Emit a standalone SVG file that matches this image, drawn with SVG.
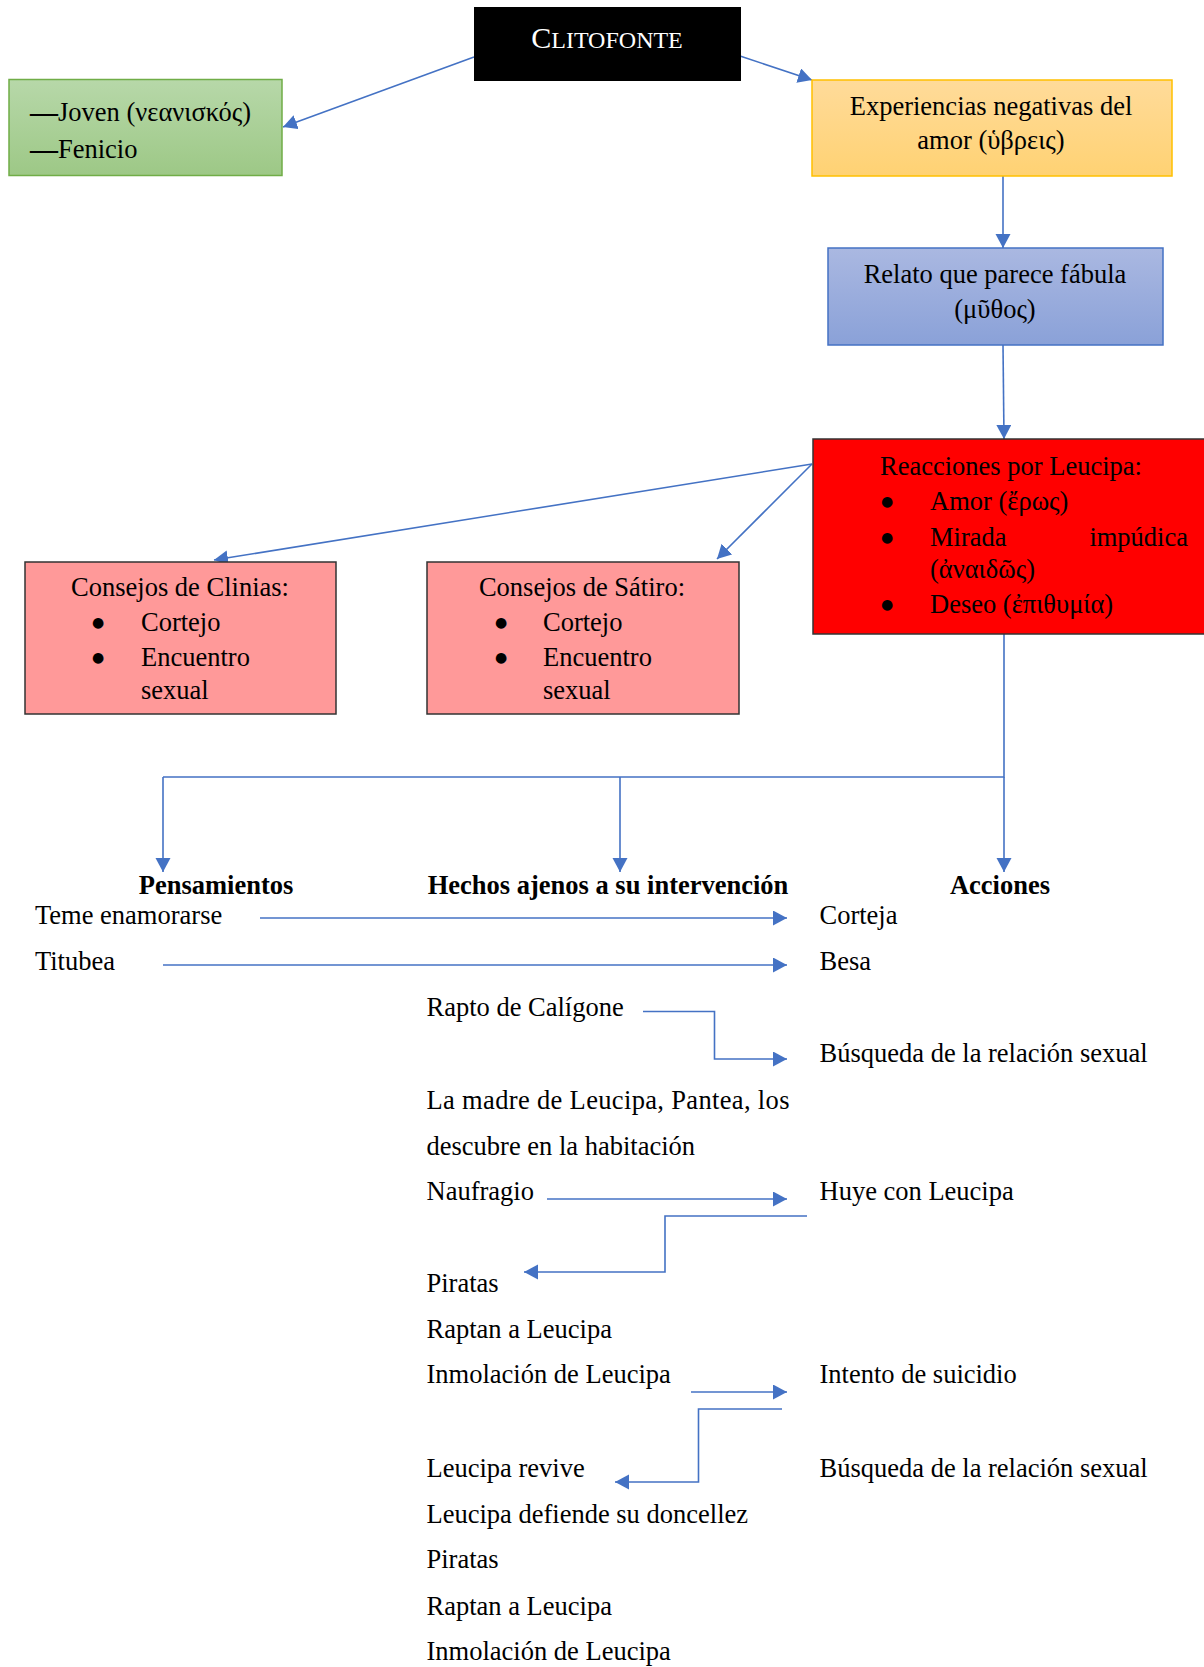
<svg xmlns="http://www.w3.org/2000/svg" width="1204" height="1667" viewBox="0 0 1204 1667">
<defs>
<linearGradient id="gGreen" x1="0" y1="0" x2="0" y2="1"><stop offset="0" stop-color="#B7D8A9"/><stop offset="1" stop-color="#9DC886"/></linearGradient>
<linearGradient id="gYellow" x1="0" y1="0" x2="0" y2="1"><stop offset="0" stop-color="#FFDB9A"/><stop offset="1" stop-color="#FFD273"/></linearGradient>
<linearGradient id="gBlue" x1="0" y1="0" x2="0" y2="1"><stop offset="0" stop-color="#AAB8E1"/><stop offset="1" stop-color="#8AA1D8"/></linearGradient>
<marker id="ah" markerUnits="userSpaceOnUse" markerWidth="15" markerHeight="16" refX="14" refY="7.5" orient="auto"><path d="M0,0 L14,7.5 L0,15 Z" fill="#4472C4"/></marker>
<style>
text{font-family:"Liberation Serif","DejaVu Serif",serif;font-size:26.5px;fill:#000}
.c{text-anchor:middle}
.b{font-weight:bold}
.w{fill:#fff}
.bu{text-anchor:middle;font-size:14px;font-family:"DejaVu Sans",sans-serif}
.dash{font-weight:bold;font-size:28px}
.con{fill:none;stroke:#4472C4;stroke-width:1.6}
.arr{marker-end:url(#ah)}
.dark{stroke:#333;stroke-width:1.5}
</style>
</defs>

<g id="connectors">
<line class="con arr" x1="474" y1="57" x2="283" y2="127"/>
<line class="con arr" x1="740" y1="56" x2="812" y2="80"/>
<line class="con arr" x1="1003" y1="176" x2="1003" y2="248"/>
<line class="con arr" x1="1003" y1="345" x2="1004" y2="439"/>
<line class="con arr" x1="812" y1="464" x2="214" y2="560"/>
<line class="con arr" x1="812" y1="464" x2="717" y2="559"/>
<polyline class="con" points="1004,634 1004,777 163,777"/>
<line class="con arr" x1="163" y1="777" x2="163" y2="872"/>
<line class="con arr" x1="620" y1="777" x2="620" y2="872"/>
<line class="con arr" x1="1004" y1="777" x2="1004" y2="872"/>
<line class="con arr" x1="260" y1="918" x2="787" y2="918"/>
<line class="con arr" x1="163" y1="965" x2="787" y2="965"/>
<polyline class="con arr" points="643,1011.5 714.5,1011.5 714.5,1059 787,1059"/>
<line class="con arr" x1="547" y1="1199" x2="787" y2="1199"/>
<polyline class="con arr" points="807,1216 665,1216 665,1272 524,1272"/>
<line class="con arr" x1="691" y1="1392" x2="787" y2="1392"/>
<polyline class="con arr" points="782,1409 698.5,1409 698.5,1482 615,1482"/>
</g>

<g id="clitofonte">
<rect x="474" y="7" width="267" height="74" fill="#000"/>
<text class="c w" x="607" y="48" style="font-size:30px">C<tspan style="font-size:24px">LITOFONTE</tspan></text>
</g>

<g id="joven">
<rect x="9" y="79.5" width="273" height="96" fill="url(#gGreen)" stroke="#70AD47" stroke-width="1.5"/>
<text x="30" y="121"><tspan class="dash">—</tspan>Joven (νεανισκός)</text>
<text x="30" y="158"><tspan class="dash">—</tspan>Fenicio</text>
</g>

<g id="experiencias">
<rect x="812" y="80" width="360" height="96" fill="url(#gYellow)" stroke="#FFC000" stroke-width="1.5"/>
<text class="c" x="991" y="115">Experiencias negativas del</text>
<text class="c" x="991" y="149">amor (ὑβρεις)</text>
</g>

<g id="relato">
<rect x="828" y="248" width="335" height="97" fill="url(#gBlue)" stroke="#4472C4" stroke-width="1.5"/>
<text class="c" x="995" y="283">Relato que parece fábula</text>
<text class="c" x="995" y="318">(μῦθος)</text>
</g>

<g id="reacciones">
<rect x="813" y="439" width="395" height="195" fill="#FF0000" class="dark"/>
<text x="880" y="475">Reacciones por Leucipa:</text>
<text x="887" y="506" class="bu">●</text><text x="930" y="510">Amor (ἔρως)</text>
<text x="887" y="542" class="bu">●</text><text x="930" y="546">Mirada</text><text x="1188" y="546" style="text-anchor:end">impúdica</text>
<text x="930" y="578">(ἀναιδῶς)</text>
<text x="887" y="609" class="bu">●</text><text x="930" y="613">Deseo (ἐπιθυμία)</text>
</g>

<g id="clinias">
<rect x="25" y="562" width="311" height="152" fill="#FF9999" class="dark"/>
<text class="c" x="180" y="596">Consejos de Clinias:</text>
<text class="bu" x="98" y="627">●</text><text x="141" y="631">Cortejo</text>
<text class="bu" x="98" y="662">●</text><text x="141" y="666">Encuentro</text>
<text x="141" y="699">sexual</text>
</g>

<g id="satiro">
<rect x="427" y="562" width="312" height="152" fill="#FF9999" class="dark"/>
<text class="c" x="582" y="596">Consejos de Sátiro:</text>
<text class="bu" x="501" y="627">●</text><text x="543" y="631">Cortejo</text>
<text class="bu" x="501" y="662">●</text><text x="543" y="666">Encuentro</text>
<text x="543" y="699">sexual</text>
</g>

<g id="pensamientos">
<text class="c b" x="216" y="894">Pensamientos</text>
<text x="35" y="924">Teme enamorarse</text>
<text x="35" y="970">Titubea</text>
</g>

<g id="hechos">
<text class="c b" x="608" y="894">Hechos ajenos a su intervención</text>
<text x="426.5" y="1016">Rapto de Calígone</text>
<text x="426.5" y="1109" textLength="363" lengthAdjust="spacing">La madre de Leucipa, Pantea, los</text>
<text x="426.5" y="1155">descubre en la habitación</text>
<text x="426.5" y="1200">Naufragio</text>
<text x="426.5" y="1292">Piratas</text>
<text x="426.5" y="1338">Raptan a Leucipa</text>
<text x="426.5" y="1383">Inmolación de Leucipa</text>
<text x="426.5" y="1477">Leucipa revive</text>
<text x="426.5" y="1523">Leucipa defiende su doncellez</text>
<text x="426.5" y="1568">Piratas</text>
<text x="426.5" y="1615">Raptan a Leucipa</text>
<text x="426.5" y="1660">Inmolación de Leucipa</text>
</g>

<g id="acciones">
<text class="c b" x="1000" y="894">Acciones</text>
<text x="819.5" y="924">Corteja</text>
<text x="819.5" y="970">Besa</text>
<text x="819.5" y="1062">Búsqueda de la relación sexual</text>
<text x="819.5" y="1200">Huye con Leucipa</text>
<text x="819.5" y="1383">Intento de suicidio</text>
<text x="819.5" y="1477">Búsqueda de la relación sexual</text>
</g>
</svg>
